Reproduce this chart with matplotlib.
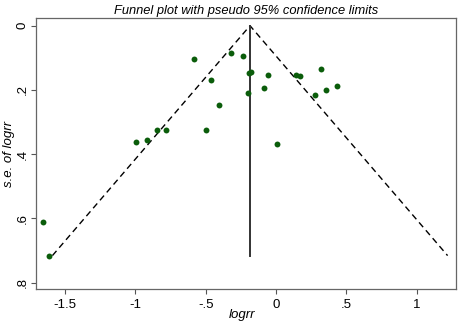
import matplotlib
matplotlib.use("Agg")
import matplotlib.pyplot as plt
import numpy as np

logrr = [-1.658, -1.613, -0.997, -0.919, -0.845, -0.782, -0.498, -0.404,
         -0.584, -0.464, -0.317, -0.238, -0.190, -0.176, -0.201, -0.086,
         -0.054, 0.139, 0.173, 0.316, 0.279, 0.358, 0.436, 0.007]
se_logrr = [0.612, 0.716, 0.363, 0.356, 0.324, 0.325, 0.325, 0.247,
            0.104, 0.170, 0.084, 0.094, 0.148, 0.1435, 0.2095, 0.195,
            0.154, 0.155, 0.157, 0.134, 0.217, 0.201, 0.188, 0.369]
pooled = -0.185
x_ticks = [-1.5, -1, -0.5, 0, 0.5, 1]
x_tick_labels = ["-1.5", "-1", "-.5", "0", ".5", "1"]
y_ticks = [0, 0.2, 0.4, 0.6, 0.8]
y_tick_labels = ["0", ".2", ".4", ".6", ".8"]

plt.rcParams['font.family'] = ['Liberation Sans', 'DejaVu Sans']

fig = plt.figure(figsize=(4.59, 3.25), dpi=100)
ax = fig.add_axes([36/459, 1-289/325, (456-36)/459, (289-18)/325])

maxse = max(se_logrr)
ax.plot([pooled - 1.96*maxse, pooled, pooled + 1.96*maxse], [maxse, 0, maxse],
        color='black', lw=1.0, dashes=(4.5, 3))
ax.plot([pooled, pooled], [0, maxse], color='#333333', lw=1.4)
ax.scatter(logrr, se_logrr, s=18, color='#0b5d0b', zorder=3, linewidths=0)

ax.set_xlim(-1.705, 1.278)
ax.set_ylim(0.82, -0.024)
ax.set_xticks(x_ticks)
ax.set_xticklabels(x_tick_labels, fontsize=9.5)
ax.set_yticks(y_ticks)
ax.set_yticklabels(y_tick_labels, fontsize=9.5, rotation=90, va='center')
ax.tick_params(direction='out', length=3.5, width=0.8, color='#555555')
ax.tick_params(axis='x', pad=4)
ax.tick_params(axis='y', pad=2)
for s in ax.spines.values():
    s.set_color('#666666')
    s.set_linewidth(0.9)

ax.set_xlabel('logrr', fontsize=9.5, style='italic')
ax.xaxis.set_label_coords((242-36)/420, -(315-289)/271, transform=ax.transAxes)
ax.xaxis.label.set_va('center')
ax.set_ylabel('s.e. of logrr', fontsize=9.5, style='italic')
ax.yaxis.set_label_coords(-(36-9)/420, 0.5)
ax.yaxis.label.set_va('center')
ax.set_title('Funnel plot with pseudo 95% confidence limits', fontsize=9.3,
             style='italic', pad=3)

fig.savefig('out.png', dpi=100)
